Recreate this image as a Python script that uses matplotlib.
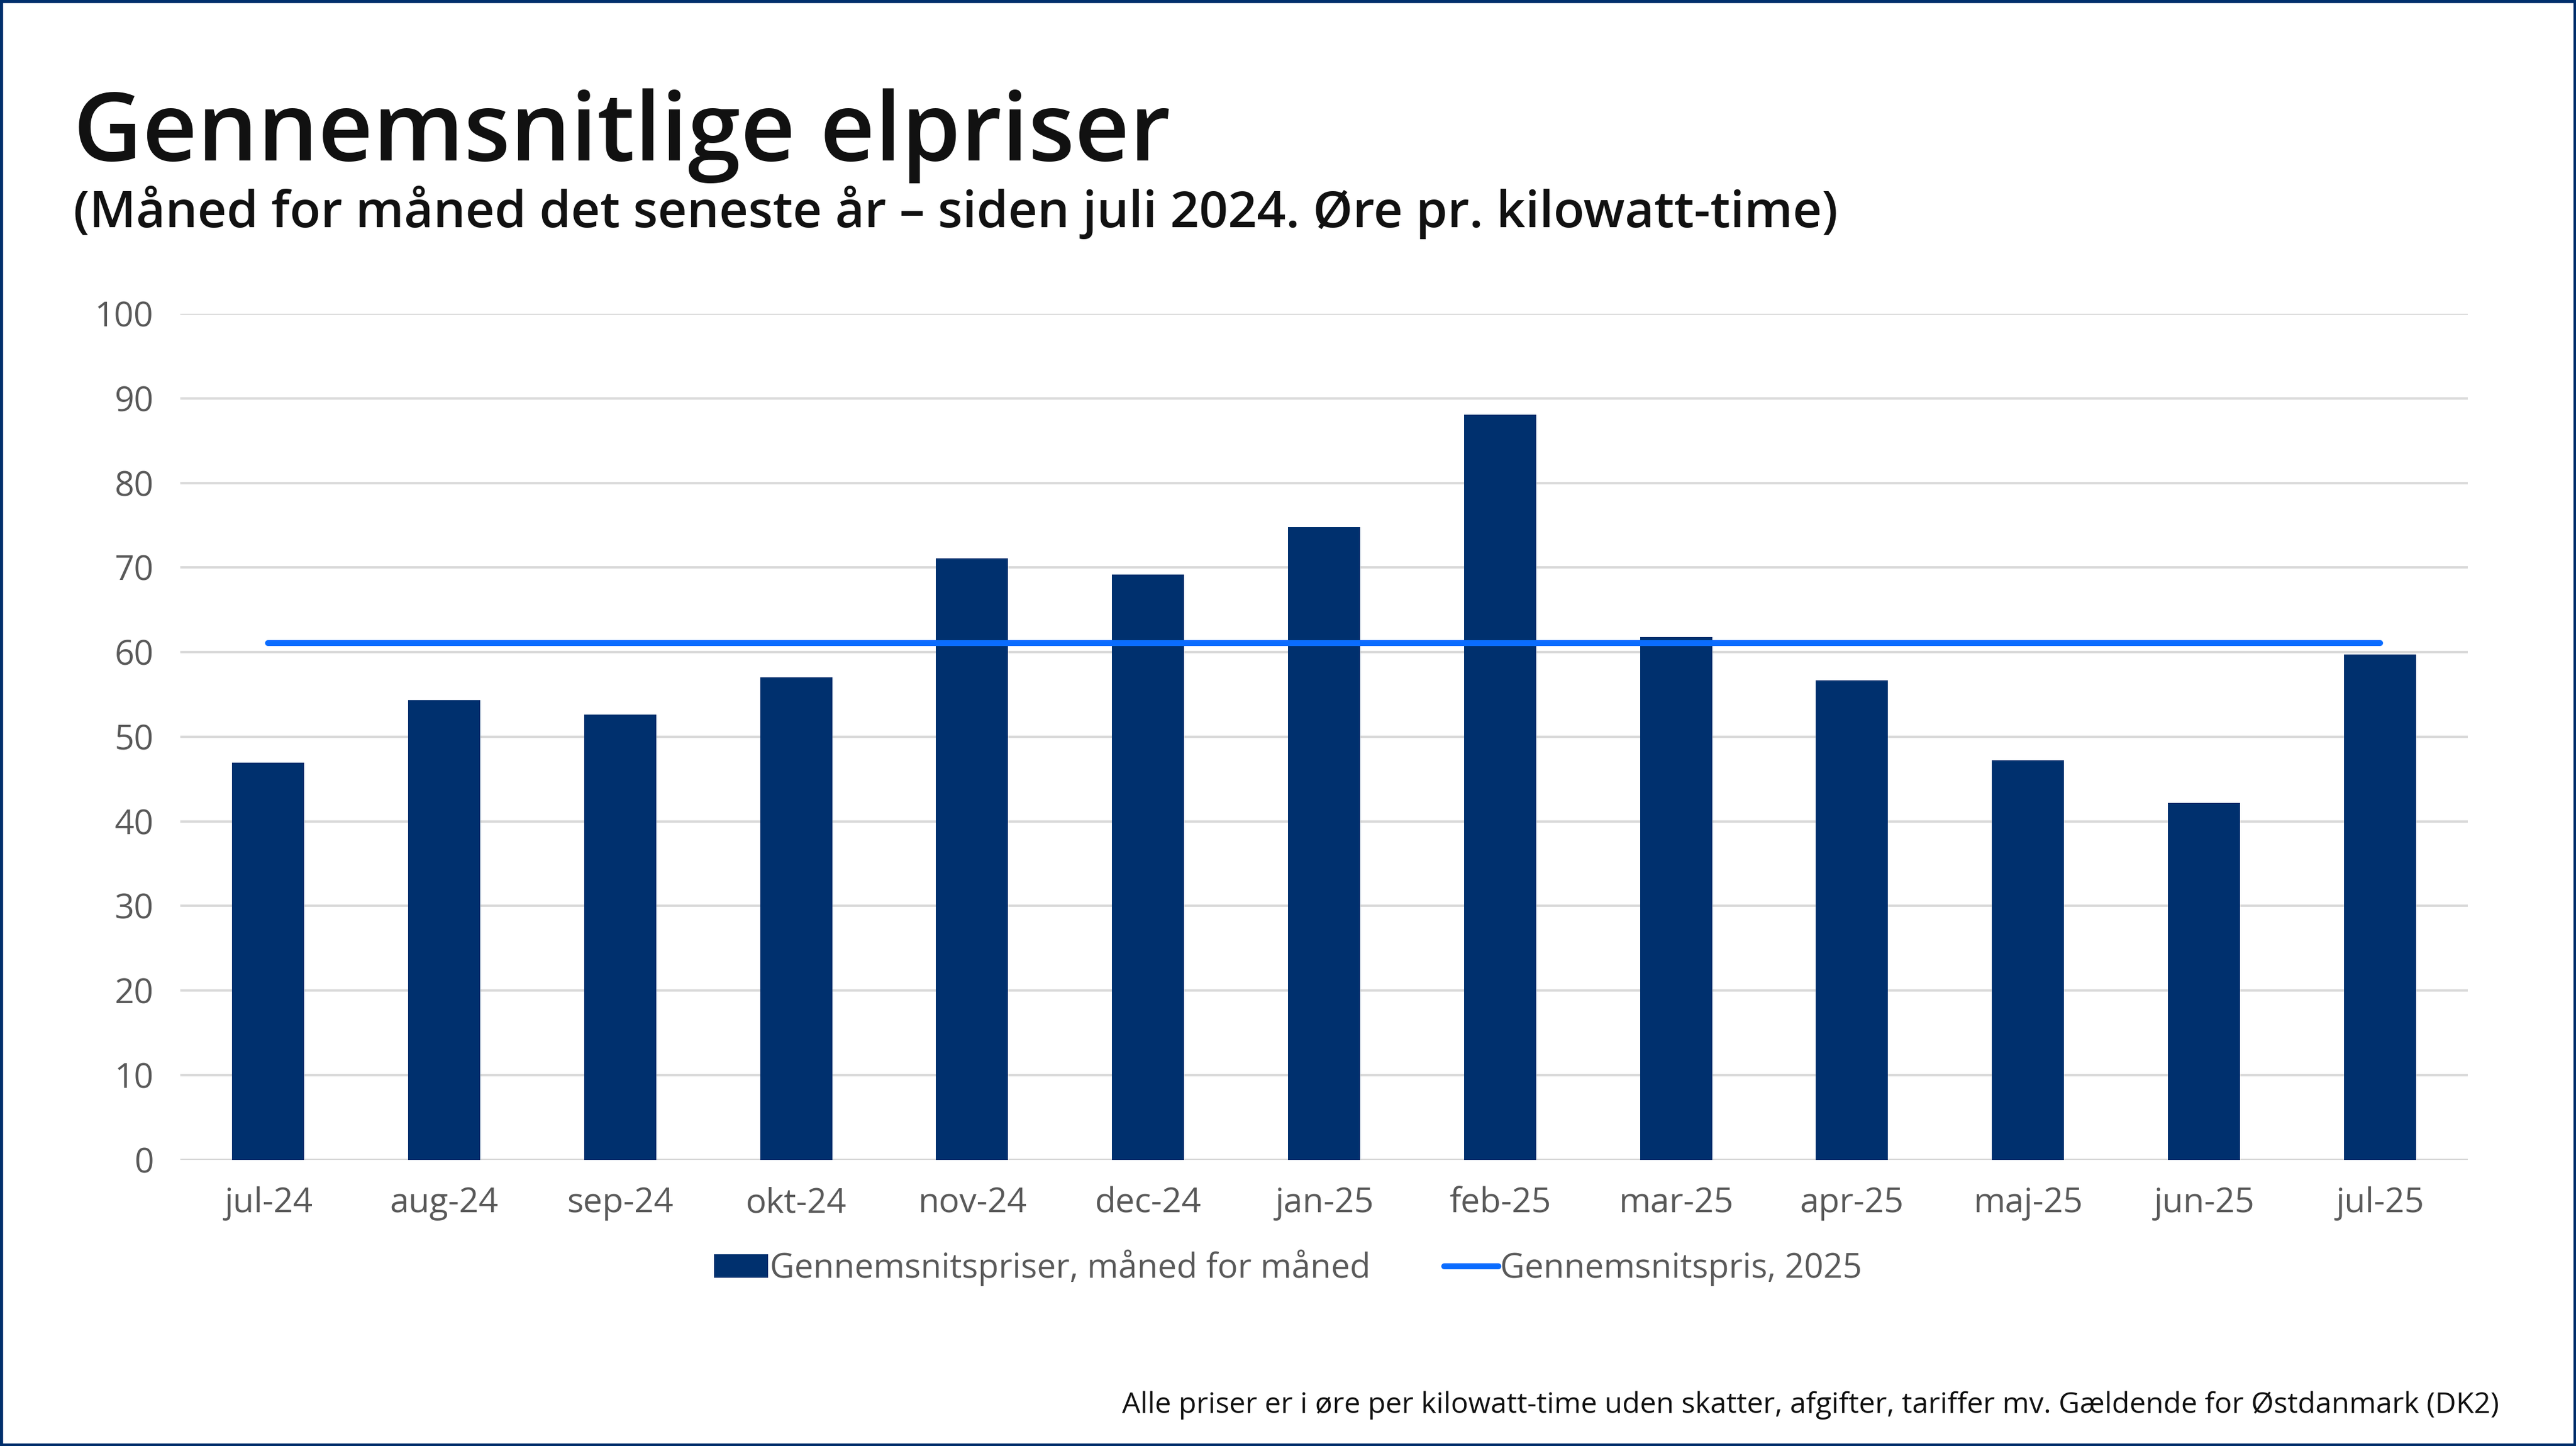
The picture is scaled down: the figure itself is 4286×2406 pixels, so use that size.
import numpy as np
import matplotlib
matplotlib.use('Agg')
import matplotlib.pyplot as plt
from matplotlib.patches import Rectangle

# Data (øre pr. kWh)
maaneder = ['jul-24', 'aug-24', 'sep-24', 'okt-24', 'nov-24', 'dec-24',
            'jan-25', 'feb-25', 'mar-25', 'apr-25', 'maj-25', 'jun-25', 'jul-25']
priser = [46.9, 54.3, 52.6, 57.0, 71.1, 69.2, 74.8, 88.1, 61.8, 56.7, 47.2, 42.2, 59.7]
snit_2025 = [61.1] * len(maaneder)

y_ticks = list(range(0, 101, 10))

navy = '#00306E'
blaa = '#0A6CFF'
graa_tekst = '#595959'

plt.rcParams['font.family'] = ['Open Sans', 'DejaVu Sans']

fig = plt.figure(figsize=(21.43, 12.03), dpi=200)
ax = fig.add_axes([0.070, 0.198, 0.888, 0.585])

x = np.arange(len(maaneder))
bars = ax.bar(x, priser, width=0.41, color=navy, zorder=2,
              label='Gennemsnitspriser, måned for måned')
linje, = ax.plot(x, snit_2025, color=blaa, lw=3.6, solid_capstyle='round', zorder=3,
                 label='Gennemsnitspris, 2025')

ax.set_xlim(-0.5, len(maaneder) - 0.5)
ax.set_ylim(0, 100)
ax.set_yticks(y_ticks)
ax.set_xticks(x)
ax.set_xticklabels(maaneder)
ax.yaxis.grid(True, color='#D9D9D9', lw=1.4, zorder=0)
ax.set_axisbelow(True)
for s in ax.spines.values():
    s.set_visible(False)
ax.tick_params(axis='both', length=0, labelsize=20.5, labelcolor=graa_tekst)
ax.tick_params(axis='y', pad=16)
ax.tick_params(axis='x', pad=16)

fig.legend(handles=[bars, linje], loc='center', bbox_to_anchor=(0.5, 0.123),
           ncol=2, frameon=False, fontsize=20.2, labelcolor=graa_tekst,
           handlelength=1.6, handletextpad=0.05, columnspacing=2.2)

# Titler
fig.text(0.0285, 0.889, 'Gennemsnitlige elpriser', fontsize=57,
         fontweight='semibold', color='#111111', va='baseline')
fig.text(0.0285, 0.843,
         '(Måned for måned det seneste år – siden juli 2024. Øre pr. kilowatt-time)',
         fontsize=30.3, fontweight='semibold', color='#111111', va='baseline')

fig.text(0.970, 0.023,
         'Alle priser er i øre per kilowatt-time uden skatter, afgifter, tariffer mv. Gældende for Østdanmark (DK2)',
         fontsize=17.35, color='#111111', ha='right', va='baseline')

# Ramme om hele figuren
fig.patches.append(Rectangle((0, 0), 1, 1, transform=fig.transFigure,
                             fill=False, edgecolor='#002F6C', lw=3.4))

fig.savefig('out.png', dpi=200, facecolor='white')
